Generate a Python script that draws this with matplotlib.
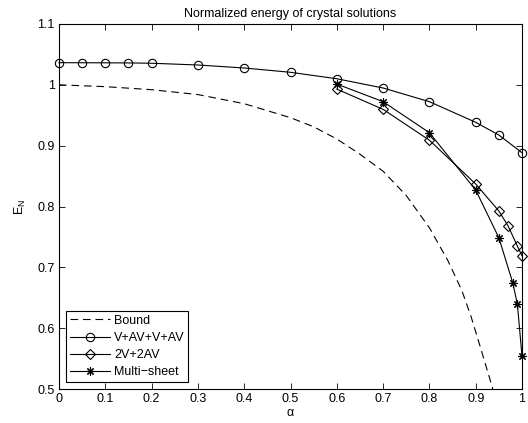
import matplotlib
matplotlib.use("Agg")
import matplotlib.pyplot as plt
from matplotlib.ticker import FuncFormatter

plt.rcParams['font.family'] = ['Liberation Sans', 'DejaVu Sans']
plt.rcParams['font.size'] = 9
plt.rcParams['lines.scale_dashes'] = False

# Bound (curva)
alpha_bound = [0, 0.1, 0.2, 0.3, 0.4, 0.5, 0.55, 0.6, 0.65, 0.7, 0.75, 0.8,
               0.84, 0.87, 0.89, 0.91, 0.937]
e_bound = [1.0, 0.997, 0.992, 0.984, 0.969, 0.946, 0.931, 0.911, 0.886,
           0.858, 0.818, 0.765, 0.711, 0.662, 0.619, 0.569, 0.5]

# V+AV+V+AV
alpha_vav = [0, 0.05, 0.1, 0.15, 0.2, 0.3, 0.4, 0.5, 0.6, 0.7, 0.8, 0.9, 0.95, 1.0]
e_vav = [1.0364, 1.0363, 1.0362, 1.036, 1.0355, 1.0326, 1.0277, 1.0206,
         1.010, 0.9948, 0.9723, 0.9384, 0.9175, 0.8884]

# 2V+2AV
alpha_2v = [0.6, 0.7, 0.8, 0.9, 0.95, 0.97, 0.99, 1.0]
e_2v = [0.993, 0.9597, 0.909, 0.837, 0.7926, 0.768, 0.735, 0.719]

# Multi-sheet
alpha_ms = [0.6, 0.7, 0.8, 0.9, 0.95, 0.98, 0.99, 1.0]
e_ms = [1.0013, 0.9723, 0.9213, 0.827, 0.7487, 0.6747, 0.6395, 0.554]

fig = plt.figure(figsize=(5.28, 4.23), dpi=100)
ax = fig.add_axes([59 / 528, 34 / 423, 463 / 528, 365 / 423])

ax.plot(alpha_bound, e_bound, color='black', linewidth=0.8,
        dashes=(5.5, 3.5), label='Bound')
ax.plot(alpha_vav, e_vav, color='black', linewidth=0.8, marker='o',
        markersize=6, markerfacecolor='none', markeredgewidth=0.8,
        label='V+AV+V+AV', clip_on=False)
ax.plot(alpha_2v, e_2v, color='black', linewidth=0.8, marker='D',
        markersize=5, markerfacecolor='none', markeredgewidth=0.8,
        label='2V+2AV', clip_on=False)
ax.plot(alpha_ms, e_ms, color='black', linewidth=0.8, marker=(8, 2, 0),
        markersize=6, markeredgewidth=0.8, label='Multi\u2212sheet',
        clip_on=False)

ax.set_xlim(0, 1)
ax.set_ylim(0.5, 1.1)
ax.set_xticks([0, 0.1, 0.2, 0.3, 0.4, 0.5, 0.6, 0.7, 0.8, 0.9, 1])
ax.set_yticks([0.5, 0.6, 0.7, 0.8, 0.9, 1.0, 1.1])
fmt = FuncFormatter(lambda v, p: f'{v:g}')
ax.xaxis.set_major_formatter(fmt)
ax.yaxis.set_major_formatter(fmt)
ax.tick_params(direction='in', top=True, right=True, length=4, width=0.6,
               labelsize=9, pad=3)
for s in ax.spines.values():
    s.set_linewidth(0.8)

ax.set_title('Normalized energy of crystal solutions', fontsize=9, pad=5)
ax.set_xlabel('\u03b1', fontsize=9, labelpad=1)
ax.set_ylabel(r'$\mathregular{E_N}$', fontsize=9, labelpad=7)

leg = ax.legend(loc='lower left', fancybox=False, framealpha=1,
                edgecolor='black', handlelength=3.2, labelspacing=0.42,
                borderaxespad=0.55, handletextpad=0.35, borderpad=0.3)
leg.get_frame().set_linewidth(0.8)

plt.savefig('out.png', dpi=100)
